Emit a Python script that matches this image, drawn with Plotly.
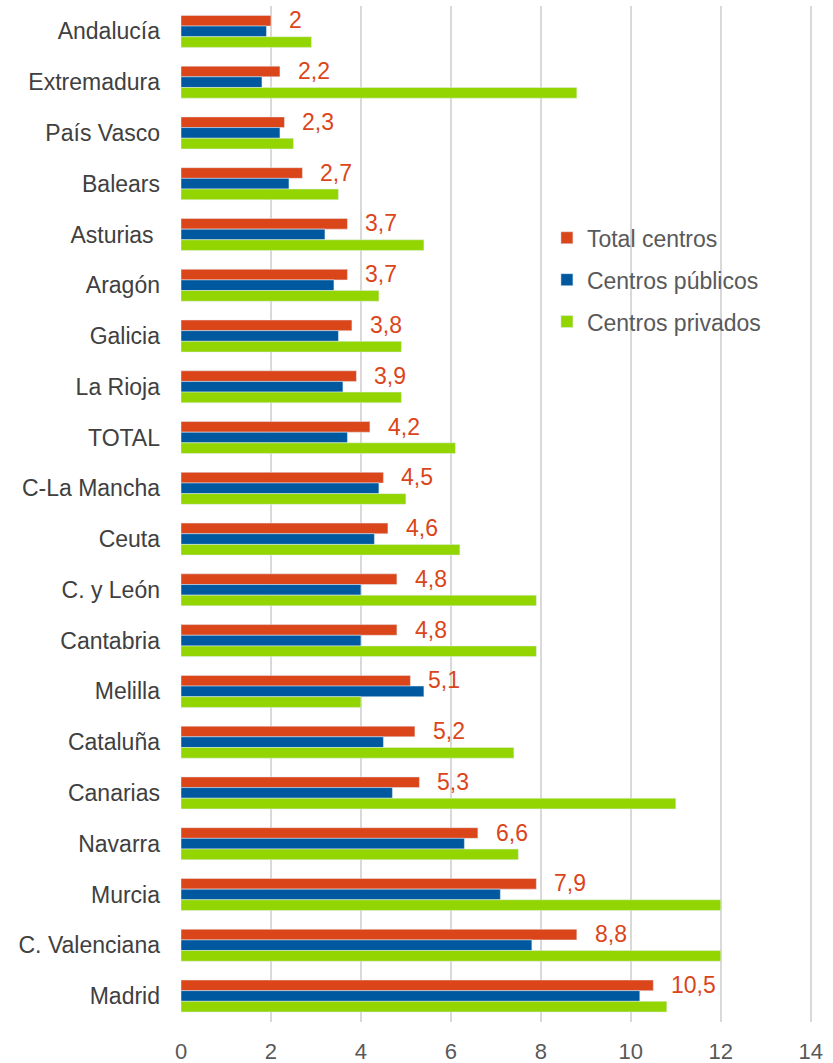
import plotly.graph_objects as go

categories = ["Andalucía", "Extremadura", "País Vasco", "Balears", "Asturias ", "Aragón",
              "Galicia", "La Rioja", "TOTAL", "C-La Mancha", "Ceuta", "C. y León",
              "Cantabria", "Melilla", "Cataluña", "Canarias", "Navarra", "Murcia",
              "C. Valenciana", "Madrid"]
total_centros = [2.0, 2.2, 2.3, 2.7, 3.7, 3.7, 3.8, 3.9, 4.2, 4.5, 4.6, 4.8, 4.8, 5.1, 5.2, 5.3, 6.6, 7.9, 8.8, 10.5]
centros_publicos = [1.9, 1.8, 2.2, 2.4, 3.2, 3.4, 3.5, 3.6, 3.7, 4.4, 4.3, 4.0, 4.0, 5.4, 4.5, 4.7, 6.3, 7.1, 7.8, 10.2]
centros_privados = [2.9, 8.8, 2.5, 3.5, 5.4, 4.4, 4.9, 4.9, 6.1, 5.0, 6.2, 7.9, 7.9, 4.0, 7.4, 11.0, 7.5, 12.0, 12.0, 10.8]
x_ticks = [0, 2, 4, 6, 8, 10, 12, 14]

RED = "#DA451A"
BLUE = "#00599F"
GREEN = "#92D500"
FONT = "Liberation Sans, Arial, sans-serif"

fig = go.Figure()
fig.add_trace(go.Bar(y=categories, x=total_centros, orientation="h", name="Total centros",
                     marker=dict(color=RED), legendgroup="a"))
fig.add_trace(go.Bar(y=categories, x=centros_publicos, orientation="h", name="Centros públicos",
                     marker=dict(color=BLUE), legendgroup="b"))
fig.add_trace(go.Bar(y=categories, x=centros_privados, orientation="h", name="Centros privados",
                     marker=dict(color=GREEN), legendgroup="c"))

for cat, v in zip(categories, total_centros):
    fig.add_annotation(x=v, y=cat, text=f"{v:g}".replace(".", ","), showarrow=False,
                       xanchor="left", yanchor="middle", xshift=16, yshift=11,
                       font=dict(family=FONT, size=23, color=RED))

fig.update_layout(
    width=833, height=1063,
    margin=dict(l=181, r=20, t=6, b=41, autoexpand=False),
    paper_bgcolor="white", plot_bgcolor="white",
    barmode="group", bargap=0.37, bargroupgap=0,
    font=dict(family=FONT, size=22, color="#595959"),
    legend=dict(x=0.579, y=0.793, xanchor="left", yanchor="top", traceorder="grouped",
                tracegroupgap=9, bgcolor="rgba(0,0,0,0)",
                font=dict(family=FONT, size=23, color="#595959")),
    showlegend=True,
)
fig.update_xaxes(range=[0, 14.05], tickvals=x_ticks, showgrid=True, gridcolor="#D9D9D9",
                 gridwidth=2, zeroline=False, showline=False, ticks="", automargin=False,
                 ticklabelstandoff=14, tickfont=dict(family=FONT, size=22, color="#595959"))
fig.update_yaxes(autorange="reversed", showgrid=False, zeroline=False, showline=False,
                 ticks="", ticklabelstandoff=20, automargin=False,
                 tickfont=dict(family=FONT, size=23, color="#404040"))

fig.write_html("out.html", config={"displayModeBar": False},
               post_script="document.body.style.margin='0';")
